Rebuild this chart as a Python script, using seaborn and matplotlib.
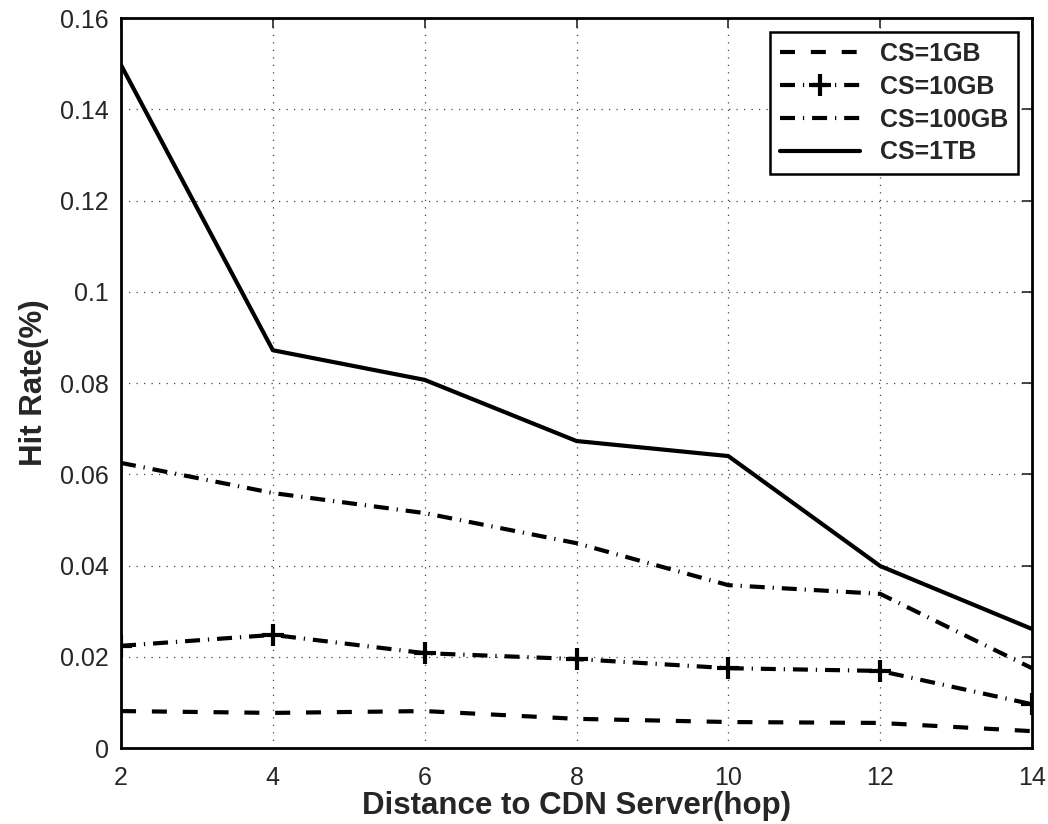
import matplotlib
matplotlib.use("Agg")
import matplotlib.pyplot as plt
import seaborn as sns

# Hit rate vs distance to CDN server for several cache sizes
hops = [2, 4, 6, 8, 10, 12, 14]
cs_1gb = [0.0081, 0.0077, 0.0081, 0.0064, 0.0057, 0.0055, 0.0037]
cs_10gb = [0.0224, 0.0248, 0.0208, 0.0195, 0.0175, 0.0169, 0.0096]
cs_100gb = [0.0625, 0.0559, 0.0515, 0.0449, 0.0357, 0.0338, 0.0175]
cs_1tb = [0.1497, 0.0872, 0.0807, 0.0673, 0.0640, 0.0399, 0.0261]

y_ticks = [0, 0.02, 0.04, 0.06, 0.08, 0.1, 0.12, 0.14, 0.16]
y_tick_labels = ["0", "0.02", "0.04", "0.06", "0.08", "0.1", "0.12", "0.14", "0.16"]

sns.set_style("white")
plt.rcParams['font.family'] = ['Liberation Sans', 'DejaVu Sans']

fig = plt.figure(figsize=(10.48, 8.24), dpi=100)
ax = fig.add_axes([0.1155, 0.0922, 0.8692, 0.8858])

lw = 3.0
dashdot = (0, (3.6, 1.9, 0.3, 1.9))
sns.lineplot(x=hops, y=cs_1gb, ax=ax, color='black', lw=lw,
             linestyle=(0, (3.6, 3.8)), label='CS=1GB')
sns.lineplot(x=hops, y=cs_10gb, ax=ax, color='black', lw=lw,
             linestyle=dashdot, marker='+', ms=16, mew=3, mec='black',
             label='CS=10GB')
sns.lineplot(x=hops, y=cs_100gb, ax=ax, color='black', lw=lw,
             linestyle=dashdot, label='CS=100GB')
sns.lineplot(x=hops, y=cs_1tb, ax=ax, color='black', lw=lw,
             linestyle='-', label='CS=1TB')

ax.set_xlim(2, 14)
ax.set_ylim(0, 0.16)
ax.set_xticks(hops)
ax.set_yticks(y_ticks)
ax.set_yticklabels(y_tick_labels)
ax.tick_params(direction='in', length=7, width=1.2, labelsize=18,
               top=True, right=True, pad=9)
ax.tick_params(axis='x', pad=13)
ax.grid(True, linestyle=(0, (1, 5)), color='#444444', linewidth=0.9)
for s in ax.spines.values():
    s.set_color('black')
    s.set_linewidth(2)

ax.set_xlabel("Distance to CDN Server(hop)", fontsize=22.5, fontweight='bold', labelpad=1)
ax.set_ylabel("Hit Rate(%)", fontsize=22.5, fontweight='bold', labelpad=8)

leg = ax.legend(loc='upper right', prop={'weight': 'bold', 'size': 18},
                handlelength=3.2, labelspacing=0.35, borderpad=0.4,
                borderaxespad=0.56, fancybox=False, framealpha=1)
leg.get_frame().set_edgecolor('black')
leg.get_frame().set_linewidth(1.8)

fig.savefig("out.png", dpi=100)
